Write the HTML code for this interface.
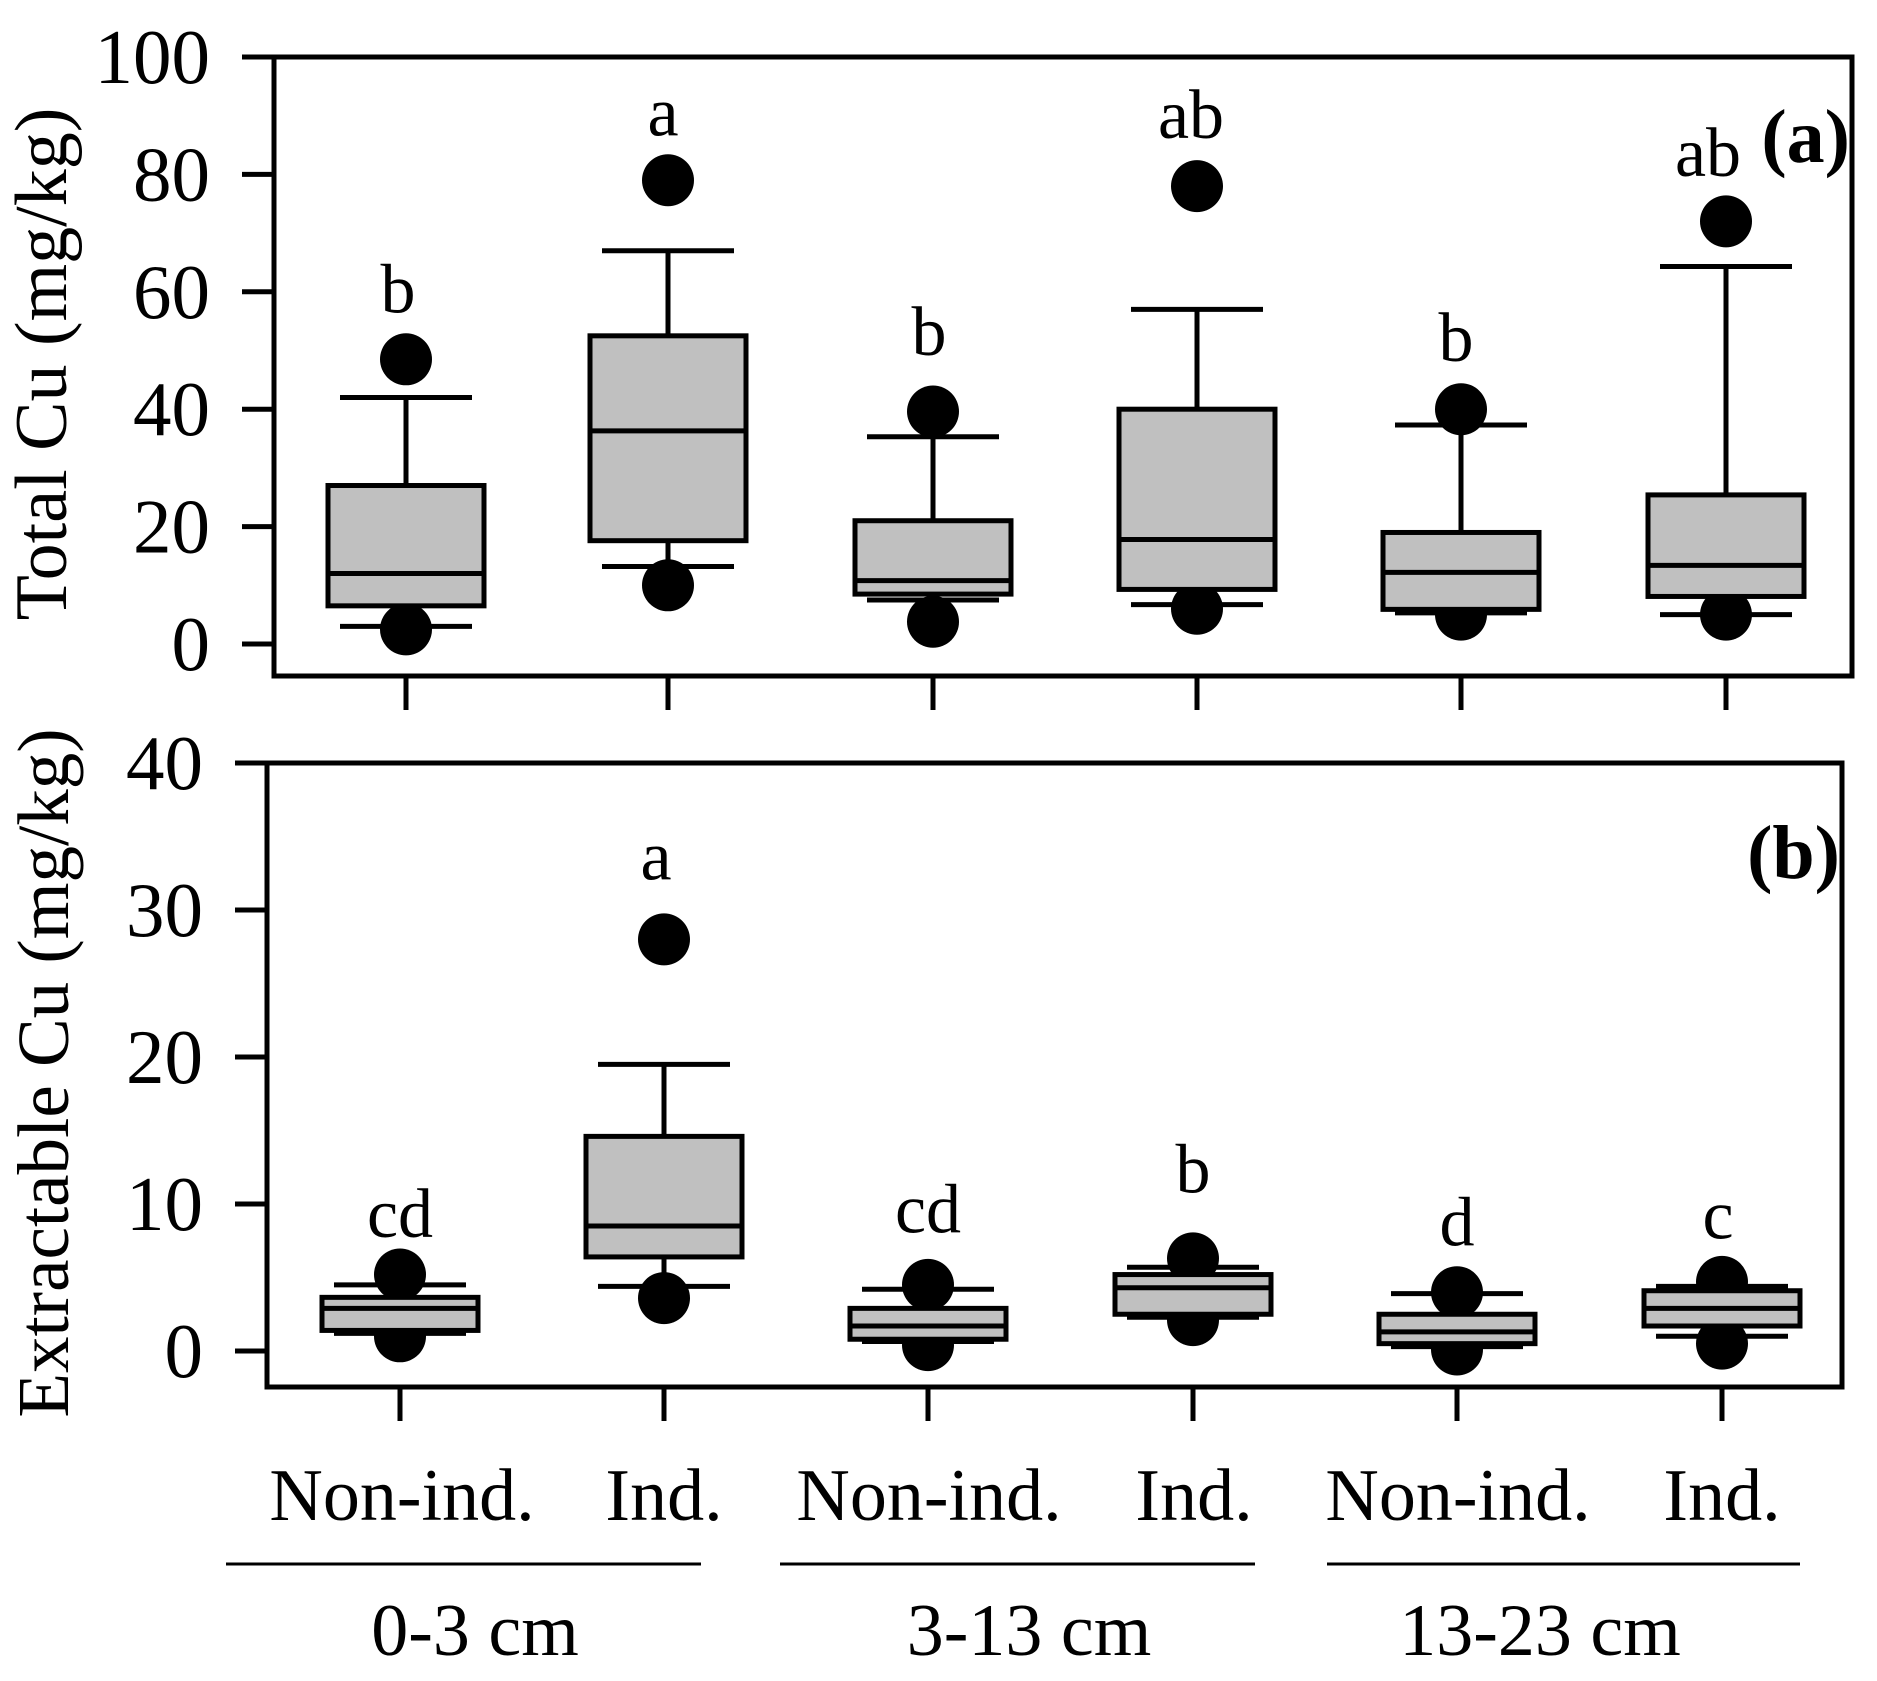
<!DOCTYPE html>
<html><head><meta charset="utf-8"><style>
html,body{margin:0;padding:0;background:#fff;}
svg{display:block;font-family:"Liberation Serif",serif;}
</style></head><body>
<svg id="chart" width="1877" height="1681" viewBox="0 0 1877 1681" xmlns="http://www.w3.org/2000/svg"></svg>
<script>
const categories = ["Non-ind.","Ind.","Non-ind.","Ind.","Non-ind.","Ind."];
const groups = ["0-3 cm","3-13 cm","13-23 cm"];
// Panel a: Total Cu
const aLow = [3, 13.2, 7.5, 6.7, 5.3, 5];
const aQ1 = [6.5, 17.6, 8.5, 9.3, 5.9, 8.1];
const aMed = [12, 36.3, 10.8, 17.8, 12.2, 13.4];
const aQ3 = [27, 52.5, 21, 40, 19, 25.4];
const aHigh = [42, 67, 35.3, 57, 37.3, 64.3];
const aOutHigh = [48.5, 79, 39.6, 78, 40, 72];
const aOutLow = [2.5, 10, 3.8, 6, 5, 5];
const aLetters = ["b","a","b","ab","b","ab"];
const aLetterY = [60.6, 90.7, 53.3, 90.3, 52.3, 83.8];
const aTicks = [0,20,40,60,80,100];
// Panel b: Extractable Cu
const bLow = [1.2, 4.4, 0.65, 2.3, 0.3, 1.0];
const bQ1 = [1.4, 6.4, 0.8, 2.5, 0.5, 1.7];
const bMed = [2.9, 8.5, 1.7, 4.3, 1.3, 2.9];
const bQ3 = [3.65, 14.6, 2.9, 5.2, 2.5, 4.1];
const bHigh = [4.5, 19.5, 4.2, 5.7, 3.9, 4.4];
const bOutHigh = [5.2, 28, 4.5, 6.3, 4.0, 4.7];
const bOutLow = [1.0, 3.6, 0.4, 2.1, 0.1, 0.5];
const bLetters = ["cd","a","cd","b","d","c"];
const bLetterY = [9.4, 33.7, 9.7, 12.4, 8.8, 9.3];
const bTicks = [0,10,20,30,40];

const NS="http://www.w3.org/2000/svg";
const svg=document.getElementById('chart');
function mk(tag,attrs,parent){const e=document.createElementNS(NS,tag);for(const k in attrs)e.setAttribute(k,attrs[k]);(parent||svg).appendChild(e);return e;}

function panel(p){
  const g=mk('g',{});
  
  
  const y=v=>p.y0+(v-p.vmin)/(p.vmax-p.vmin)*(p.y1-p.y0);
  const x=i=>p.xs[i];
  const fr=mk('rect',{x:p.left,y:p.top,width:p.right-p.left,height:p.bottom-p.top,fill:'none',stroke:'#000','stroke-width':5},g);
  
  
  p.ticks.forEach(t=>{
    const tk=mk('line',{x1:p.left-32,x2:p.left,y1:y(t),y2:y(t),stroke:'#000','stroke-width':5},g);
    
    
    const tl=mk('text',{x:p.left-64,y:y(t)+26,'text-anchor':'end','font-size':77},g);
    tl.textContent=t;
    
    
  });
  p.xs.forEach(xx=>{
    const tk=mk('line',{x1:xx,x2:xx,y1:p.bottom,y2:p.bottom+34,stroke:'#000','stroke-width':5},g);
    
    
  });
  const bw=156, cw=132;
  for(let i=0;i<6;i++){
    const bg=mk('g',{},g);
    
    
    const cx=x(i);
    mk('line',{x1:cx,x2:cx,y1:y(p.high[i]),y2:y(p.q3[i]),stroke:'#000','stroke-width':5},bg);
    mk('line',{x1:cx,x2:cx,y1:y(p.q1[i]),y2:y(p.low[i]),stroke:'#000','stroke-width':5},bg);
    mk('line',{x1:cx-cw/2,x2:cx+cw/2,y1:y(p.high[i]),y2:y(p.high[i]),stroke:'#000','stroke-width':5},bg);
    mk('line',{x1:cx-cw/2,x2:cx+cw/2,y1:y(p.low[i]),y2:y(p.low[i]),stroke:'#000','stroke-width':5},bg);
    mk('circle',{cx:cx,cy:y(p.outHigh[i]),r:26,fill:'#000'},bg);
    mk('circle',{cx:cx,cy:y(p.outLow[i]),r:26,fill:'#000'},bg);
    mk('rect',{x:cx-bw/2,y:y(p.q3[i]),width:bw,height:y(p.q1[i])-y(p.q3[i]),fill:'#c0c0c0',stroke:'#000','stroke-width':5},bg);
    mk('line',{x1:cx-bw/2,x2:cx+bw/2,y1:y(p.med[i]),y2:y(p.med[i]),stroke:'#000','stroke-width':5},bg);
    const lt=mk('text',{x:cx+(p.letterDx?p.letterDx[i]:0),y:y(p.letterY[i])+24,'text-anchor':'middle','font-size':70},g);
    lt.textContent=p.letters[i];
    
    
  }
  const yt=mk('text',{x:0,y:0,'text-anchor':'middle','font-size':p.titleSize,transform:`translate(${p.titleX},${p.titleY}) rotate(-90)`},g);
  yt.textContent=p.title;
  
  
  const pl=mk('text',{x:p.right-2,y:p.tagY,'text-anchor':'end','font-size':76,'font-weight':'bold'},g);
  pl.textContent=p.tag;
  
  
}

panel({name:'panel-a',left:274,right:1852,top:57,bottom:676,vmin:0,vmax:100,y0:644,y1:57,
  xs:[406,668,933,1197,1461,1726],ticks:aTicks,low:aLow,q1:aQ1,med:aMed,q3:aQ3,high:aHigh,
  outHigh:aOutHigh,outLow:aOutLow,letters:aLetters,letterY:aLetterY,letterDx:[-8,-5,-4,-6,-5,-18],
  title:'Total Cu (mg/kg)',titleSize:74,titleX:66,titleY:364,tag:'(a)',tagY:162});
panel({name:'panel-b',left:267,right:1842,top:763,bottom:1387,vmin:0,vmax:40,y0:1351,y1:763,
  xs:[400,664,928,1193,1457,1722],ticks:bTicks,low:bLow,q1:bQ1,med:bMed,q3:bQ3,high:bHigh,
  outHigh:bOutHigh,outLow:bOutLow,letters:bLetters,letterY:bLetterY,letterDx:[0,-8,0,0,0,-4],
  title:'Extractable Cu (mg/kg)',titleSize:73,titleX:68,titleY:1073,tag:'(b)',tagY:878});

const catX=[402,664,929,1194,1458,1722];
categories.forEach((c,i)=>{
  const t=mk('text',{x:catX[i],y:1520,'text-anchor':'middle','font-size':74});
  t.textContent=c;
  
  
});
const gl=[[226,701],[780,1255],[1327,1800]];
const gx=[475,1029,1540];
groups.forEach((gname,i)=>{
  const l=mk('line',{x1:gl[i][0],x2:gl[i][1],y1:1564,y2:1564,stroke:'#000','stroke-width':3});
  
  
  const t=mk('text',{x:gx[i],y:1655,'text-anchor':'middle','font-size':74});
  t.textContent=gname;
  
  
});
</script>
</body></html>
